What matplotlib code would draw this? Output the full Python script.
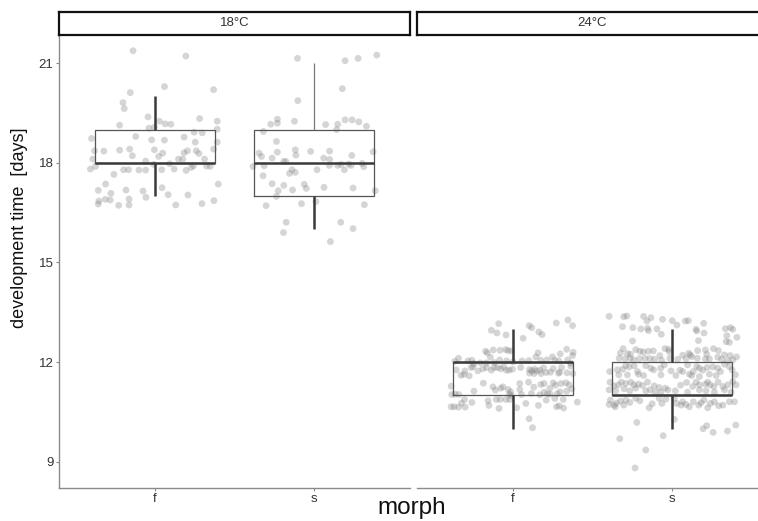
import matplotlib
matplotlib.use('Agg')
import matplotlib.pyplot as plt
import numpy as np

plt.rcParams['font.family'] = ['Liberation Sans', 'DejaVu Sans']

panels = ['18°C', '24°C']
morphs = ['f', 's']
tick_vals = [9, 12, 15, 18, 21]

# box statistics: [lower whisker, Q1, median, Q3, upper whisker]
box_18_f = [17, 18, 18, 19, 20]
box_18_s = [16, 17, 18, 19, 21]
box_24_f = [10, 11, 12, 12, 13]
box_24_s = [10, 11, 11, 12, 13]

# jittered observations: horizontal jitter offset and development time (days)
jit_18_f = [-0.136, 0.195, 0.061, -0.153, 0.369, -0.199, -0.191, -0.042, 0.029, 0.065,
            0.101, 0.281, 0.392, -0.220, -0.036, -0.002, 0.392, 0.247, 0.298, -0.396,
            -0.119, -0.019, 0.061, 0.184, 0.254, 0.392, -0.377, -0.319, -0.220, -0.157,
            -0.140, -0.002, 0.050, 0.025, 0.184, 0.205, 0.260, 0.277, 0.369, -0.388,
            -0.371, -0.403, -0.057, -0.006, 0.094, 0.149, 0.176, 0.312, -0.195, -0.164,
            -0.099, -0.057, 0.044, 0.122, 0.197, 0.229, 0.243, 0.325, 0.348, -0.256,
            -0.308, -0.354, -0.180, -0.275, -0.073, 0.046, -0.055, 0.084, 0.208, 0.398,
            -0.310, -0.350, -0.279, -0.161, -0.354, -0.226, -0.161, 0.132, 0.296, 0.371]
dev_18_f = [21.37, 21.21, 20.29, 20.11, 20.20, 19.81, 19.63, 19.38, 19.25, 19.17,
            19.16, 19.33, 19.25, 19.13, 19.04, 19.07, 19.01, 18.92, 18.90, 18.73,
            18.79, 18.69, 18.68, 18.77, 18.62, 18.62, 18.36, 18.35, 18.38, 18.41,
            18.21, 18.39, 18.29, 18.19, 18.30, 18.36, 18.36, 18.28, 18.41, 18.11,
            17.89, 17.81, 18.05, 17.95, 17.97, 18.11, 18.11, 18.11, 17.79, 17.79,
            17.78, 17.78, 17.79, 17.81, 17.77, 17.86, 17.91, 17.90, 17.89, 17.65,
            17.36, 17.17, 17.18, 17.08, 17.15, 17.25, 16.96, 17.04, 17.03, 17.36,
            16.90, 16.85, 16.88, 16.91, 16.76, 16.72, 16.73, 16.73, 16.77, 16.86]

jit_18_s = [-0.105, 0.193, 0.275, 0.392, 0.176, -0.103, -0.273, -0.231, -0.231, -0.124,
            0.071, 0.147, 0.140, 0.193, 0.237, 0.279, 0.327, -0.319, -0.237, -0.346,
            -0.331, -0.264, -0.231, -0.119, -0.115, -0.023, 0.096, 0.059, 0.096, 0.235,
            0.369, -0.384, -0.314, -0.191, -0.178, 0.094, 0.147, 0.168, 0.216, 0.231,
            0.300, 0.310, 0.189, 0.017, -0.140, -0.155, -0.119, -0.321, -0.264, -0.191,
            -0.063, -0.050, 0.061, 0.243, -0.226, -0.136, -0.237, 0.382, -0.302, -0.080,
            0.010, 0.314, -0.176, -0.193, 0.166, 0.243, 0.101]
dev_18_s = [21.14, 21.07, 21.14, 21.24, 20.23, 19.87, 19.16, 19.31, 19.19, 19.25,
            19.15, 19.16, 19.00, 19.29, 19.29, 19.23, 19.10, 18.94, 18.64, 18.29,
            18.19, 18.14, 18.32, 18.39, 18.23, 18.34, 18.35, 18.14, 18.10, 18.22,
            18.33, 17.89, 17.91, 18.04, 18.04, 17.92, 17.92, 17.95, 17.96, 17.92,
            17.98, 17.88, 17.79, 17.79, 17.79, 17.68, 17.71, 17.61, 17.37, 17.32,
            17.35, 17.23, 17.26, 17.24, 17.16, 17.18, 16.99, 17.16, 16.71, 16.77,
            16.83, 16.74, 16.21, 15.90, 16.21, 16.02, 15.63]

jit_24_f = [-0.088, -0.134, -0.099, -0.042, 0.103, 0.119, 0.164, 0.184, 0.065, 0.273,
            0.346, 0.375, -0.170, -0.159, -0.122, -0.080, -0.044, -0.029, -0.008, 0.159,
            0.145, -0.140, 0.338, 0.379, 0.298, 0.249, -0.340, -0.363, -0.281, -0.256,
            -0.243, -0.203, -0.166, -0.115, -0.082, -0.038, 0.002, 0.059, 0.101, 0.176,
            0.214, 0.264, 0.289, 0.344, 0.363, 0.375,
            -0.354, -0.300, -0.260, -0.249, -0.218, -0.187, -0.164, -0.134, -0.117, -0.096,
            -0.075, -0.057, -0.040, -0.023, -0.002, 0.050, 0.105, 0.119, 0.136, 0.149,
            0.170, 0.193, 0.237, 0.254, 0.294, 0.306, 0.340, 0.365, 0.377, -0.325,
            -0.306, -0.273, 0.105, 0.134, 0.178, 0.210, 0.287,
            -0.184, -0.124, -0.109, -0.075, -0.061, -0.029, -0.013, 0.044, 0.044, 0.099,
            0.132, 0.176, 0.197, 0.233, 0.254, 0.268, 0.302, 0.333, 0.354, -0.386,
            -0.243, 0.117, 0.197, 0.218, 0.296, 0.338, 0.371,
            -0.382, -0.361, -0.338, -0.021, -0.010, 0.055, 0.170, 0.235, 0.279,
            -0.302, -0.321, -0.367, -0.386, -0.340, -0.298, -0.256, -0.155, -0.149, -0.103,
            -0.078, -0.042, -0.019, -0.086, 0.025, 0.082, 0.161, 0.210, 0.264, 0.317,
            0.275, 0.291, 0.319, 0.405, 0.103, 0.124]
dev_24_f = [13.16, 12.96, 12.88, 12.82, 13.10, 13.04, 12.91, 12.83, 12.72, 13.18,
            13.27, 13.10, 12.33, 12.28, 12.37, 12.36, 12.38, 12.35, 12.34, 12.28,
            12.16, 12.15, 12.39, 12.30, 12.25, 12.16, 12.12, 12.03, 12.04, 12.06,
            11.96, 11.98, 11.98, 11.99, 12.07, 12.04, 12.01, 12.04, 12.05, 12.06,
            12.07, 12.06, 12.04, 12.07, 11.97, 12.20,
            11.77, 11.74, 11.84, 11.87, 11.74, 11.80, 11.84, 11.76, 11.84, 11.84,
            11.80, 11.86, 11.76, 11.76, 11.79, 11.84, 11.78, 11.74, 11.79, 11.74,
            11.76, 11.83, 11.70, 11.81, 11.70, 11.84, 11.68, 11.88, 11.66, 11.61,
            11.63, 11.59, 11.67, 11.66, 11.66, 11.69, 11.67,
            11.37, 11.26, 11.16, 11.22, 11.26, 11.18, 11.11, 11.36, 11.18, 11.40,
            11.25, 11.33, 11.36, 11.22, 11.38, 11.31, 11.36, 11.38, 11.32, 11.28,
            11.13, 11.06, 11.10, 11.05, 11.11, 11.13, 11.20,
            11.03, 11.04, 11.03, 11.04, 11.00, 11.03, 11.02, 11.04, 11.05,
            10.88, 10.77, 10.66, 10.66, 10.65, 10.65, 10.79, 10.84, 10.70, 10.88,
            10.88, 10.88, 10.88, 10.61, 10.63, 10.76, 10.70, 10.86, 10.91, 10.88,
            10.66, 10.69, 10.62, 10.80, 10.30, 10.03]

jit_24_s = [-0.396, -0.304, -0.285, -0.180, -0.159, -0.134, -0.061, 0.000, 0.029, 0.082,
            0.101, 0.197, -0.312, -0.247, -0.197, -0.155, -0.149, -0.096, -0.069, 0.149,
            0.153, 0.199, 0.333, 0.365, 0.379, 0.405, 0.342, 0.338, 0.358, -0.249, 0.164,
            -0.308, -0.325, -0.281, -0.262, -0.229, -0.203, -0.182, -0.151, -0.119, -0.046,
            -0.023, -0.019, 0.065, 0.103, 0.113, 0.159, 0.208, 0.216, 0.258, 0.289,
            0.327, 0.363, 0.403, -0.333, -0.296, -0.264, -0.241, -0.205, -0.170, -0.140,
            -0.111, -0.078, -0.067, -0.015, 0.034, 0.086, 0.122, 0.157, 0.208, 0.233,
            0.285, 0.310, 0.348, 0.379,
            -0.392, -0.344, -0.310, -0.291, -0.270, -0.239, -0.218, -0.212, -0.166, -0.134,
            -0.117, -0.073, -0.050, -0.008, 0.048, 0.065, 0.096, 0.107, 0.132, 0.153,
            0.170, 0.191, 0.218, 0.233, 0.254, 0.285, 0.302, 0.327, 0.358, 0.375,
            0.396, -0.335, -0.281, -0.180, -0.071, 0.023, 0.122, 0.170, 0.275,
            -0.390, -0.365, -0.338, -0.319, -0.291, -0.260, -0.241, -0.212, -0.187, -0.155,
            -0.138, -0.113, -0.082, -0.044, -0.027, 0.052, 0.090, 0.128, 0.149, 0.170,
            0.208, 0.222, 0.237, 0.260, 0.287, 0.317, 0.348, 0.379, 0.400, -0.396,
            -0.354, -0.302, -0.266, -0.229, -0.166, -0.107, -0.071, 0.019, 0.096, 0.170,
            0.212, 0.264, 0.327, 0.369,
            -0.388, -0.365, -0.396, -0.350, -0.325, -0.304, -0.291, -0.266, -0.203, -0.145,
            -0.126, -0.082, -0.065, -0.040, 0.027, 0.055, 0.065, 0.086, 0.107, 0.132,
            0.166, 0.180, 0.199, 0.222, 0.239, 0.264, 0.291, 0.317, 0.358, 0.390,
            -0.358, -0.229, 0.013,
            -0.222, 0.013, 0.216, 0.193, 0.256, 0.346, 0.398, -0.329, -0.057, -0.166, -0.233]
dev_24_s = [13.38, 13.37, 13.39, 13.38, 13.24, 13.34, 13.29, 13.25, 13.12, 13.24,
            13.25, 13.17, 13.07, 13.04, 13.00, 13.02, 12.95, 13.00, 12.84, 12.99,
            12.94, 12.88, 13.01, 13.04, 12.99, 12.75, 12.80, 12.62, 12.60, 12.64, 12.65,
            12.41, 12.28, 12.26, 12.24, 12.38, 12.33, 12.31, 12.33, 12.34, 12.41,
            12.39, 12.32, 12.21, 12.27, 12.22, 12.35, 12.37, 12.24, 12.41, 12.35,
            12.22, 12.20, 12.16, 12.12, 12.10, 12.12, 12.07, 12.11, 12.12, 12.11,
            12.09, 12.20, 12.06, 12.12, 12.09, 12.11, 12.17, 12.12, 12.10, 12.10,
            12.15, 12.09, 12.04, 12.07,
            11.72, 11.77, 11.79, 11.90, 11.86, 11.89, 11.72, 11.64, 11.90, 11.82,
            11.77, 11.82, 11.92, 11.74, 11.76, 11.72, 11.92, 11.64, 11.72, 11.87,
            11.82, 11.76, 11.84, 11.64, 11.86, 11.82, 11.72, 11.94, 11.87, 11.77,
            11.62, 11.62, 11.62, 11.60, 11.62, 11.60, 11.60, 11.57, 11.60,
            11.40, 11.29, 11.32, 11.40, 11.36, 11.40, 11.32, 11.34, 11.30, 11.40,
            11.17, 11.29, 11.24, 11.22, 11.17, 11.31, 11.39, 11.27, 11.40, 11.32,
            11.34, 11.40, 11.32, 11.27, 11.40, 11.27, 11.32, 11.42, 11.32, 11.17,
            11.14, 11.20, 11.14, 11.22, 11.14, 11.10, 11.10, 11.14, 11.10, 11.17,
            11.14, 11.10, 11.17, 11.10,
            10.86, 10.71, 10.73, 10.77, 10.83, 10.71, 10.86, 10.79, 10.84, 10.63,
            10.75, 10.91, 10.76, 10.89, 10.76, 10.71, 10.81, 10.73, 10.66, 10.81,
            10.71, 10.78, 10.86, 10.63, 10.76, 10.81, 10.69, 10.71, 10.81, 10.81,
            10.66, 10.91, 10.91,
            10.19, 10.28, 10.09, 10.00, 9.89, 9.93, 10.11, 9.70, 9.79, 9.36, 8.82]

groups = {
    ('18°C', 'f'): (box_18_f, jit_18_f, dev_18_f),
    ('18°C', 's'): (box_18_s, jit_18_s, dev_18_s),
    ('24°C', 'f'): (box_24_f, jit_24_f, dev_24_f),
    ('24°C', 's'): (box_24_s, jit_24_s, dev_24_s),
}

W, H = 758, 521
fig = plt.figure(figsize=(W / 100, H / 100), dpi=100)

axis_grey = '#8a8a8a'
line_dark = '#3a3a3a'
panel_left_px = [59, 417]
panel_w_px = 351
top_px, bot_px = 36, 488

for pi, panel in enumerate(panels):
    l = panel_left_px[pi] / W
    ax = fig.add_axes([l, (H - bot_px) / H, panel_w_px / W, (bot_px - top_px) / H])
    ax.set_xlim(0.4, 2.6)
    ax.set_ylim(8.217, 21.813)
    for mi, m in enumerate(morphs):
        box, jit, dev = groups[(panel, m)]
        xc = mi + 1
        ax.scatter(xc + np.array(jit), dev, s=24, color='#808080', alpha=0.33,
                   edgecolors='none', zorder=2)
        lo, q1, med, q3, hi = box
        hw = 0.375
        ax.plot([xc - hw, xc + hw, xc + hw, xc - hw, xc - hw], [q1, q1, q3, q3, q1],
                color='#555555', lw=0.9, zorder=3, solid_joinstyle='miter')
        ax.plot([xc - hw, xc + hw], [med, med], color=line_dark, lw=1.8, zorder=4,
                solid_capstyle='butt')
        upper_lw = 0.9 if (panel, m) == ('18°C', 's') else 1.8
        upper_col = '#777777' if (panel, m) == ('18°C', 's') else line_dark
        ax.plot([xc, xc], [q3, hi], color=upper_col, lw=upper_lw, zorder=3,
                solid_capstyle='butt')
        ax.plot([xc, xc], [lo, q1], color=line_dark, lw=1.8, zorder=3,
                solid_capstyle='butt')
    ax.set_xticks([1, 2])
    ax.set_xticklabels(morphs)
    for s in ['top', 'right']:
        ax.spines[s].set_visible(False)
    ax.spines['bottom'].set_color(axis_grey)
    ax.spines['bottom'].set_linewidth(1.0)
    ax.tick_params(axis='x', length=2, width=0.8, color=axis_grey, labelsize=9.5,
                   labelcolor='#333333', pad=1.5)
    if pi == 0:
        ax.spines['left'].set_color(axis_grey)
        ax.spines['left'].set_linewidth(1.0)
        ax.set_yticks(tick_vals)
        ax.set_yticklabels([str(v) for v in tick_vals])
        ax.tick_params(axis='y', length=2, width=0.8, color=axis_grey, labelsize=9.5,
                       labelcolor='#333333', pad=2)
    else:
        ax.spines['left'].set_visible(False)
        ax.set_yticks([])
    ax.set_facecolor('none')

    # strip
    sax = fig.add_axes([l, (H - 35) / H, panel_w_px / W, 23 / H])
    sax.set_xticks([])
    sax.set_yticks([])
    for s in sax.spines.values():
        s.set_color('#111111')
        s.set_linewidth(1.6)
    sax.text(0.5, 0.5, panel, ha='center', va='center', fontsize=9.5,
             color='#333333', transform=sax.transAxes)

fig.text(20 / W, (H - 228) / H, 'development time  [days]', rotation=90,
         ha='center', va='center', fontsize=13, color='#111111')
fig.text(412 / W, (H - 514) / H, 'morph', ha='center', va='baseline',
         fontsize=17.5, color='#111111')

fig.savefig('out.png', dpi=100)
